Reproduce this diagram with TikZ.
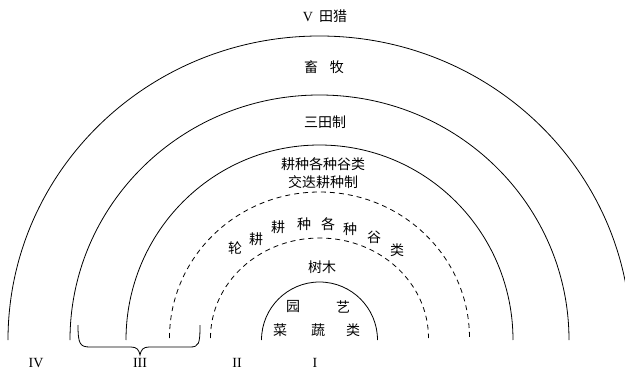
\documentclass[tikz,border=0pt]{standalone}
\usepackage{fontspec}
\setmainfont{Liberation Serif}
\newfontfamily\cjk{Noto Sans CJK SC}
\begin{document}
\begin{tikzpicture}[x=1pt,y=-1pt,
  ring/.style={line width=0.8pt},
  dring/.style={line width=0.8pt, dash pattern=on 5pt off 4pt},
  lab/.style={font=\cjk\fontsize{14}{16}\selectfont, inner sep=0pt, anchor=center},
  num/.style={font=\fontsize{14}{16}\selectfont, inner sep=0pt, anchor=center}]
\useasboundingbox (0,0) rectangle (625,375);
\clip (0,0) rectangle (625,375);
\coordinate (c) at (319.5,340);
% rings
\draw[ring]  (c) ++(-311.5,0) arc[start angle=180,end angle=360,x radius=311.5,y radius=304];
\draw[ring]  (c) ++(-249.5,0) arc[start angle=180,end angle=360,x radius=249.5,y radius=245];
\draw[ring]  (c) ++(-193.5,0) arc[start angle=180,end angle=360,x radius=193.5,y radius=195];
\draw[dring] (c) ++(-150,-2) arc[start angle=180,end angle=360,x radius=150,y radius=146];
\draw[dring] (c) ++(-109,-2) arc[start angle=180,end angle=360,x radius=109,y radius=100];
\draw[ring]  (c) ++(-58,0) arc[start angle=180,end angle=360,x radius=58,y radius=58];
% labels
\node[lab] (v) at (325,16) {{\rmfamily V}\hspace{6pt}田猎};
\node[lab] (xm) at (324,67) {畜\hspace{12pt}牧};
\node[lab] (stz) at (325,122) {三田制};
\node[lab, align=center, font=\cjk\fontsize{14}{18}\selectfont] (gz) at (323,173) {耕种各种谷类\\交迭耕种制};
\node[lab] (a1) at (235,248) {轮};
\node[lab] (a2) at (256,239) {耕};
\node[lab] (a3) at (278,227) {耕};
\node[lab] (a4) at (304,224) {种};
\node[lab] (a5) at (328,224) {各};
\node[lab] (a6) at (350,229) {种};
\node[lab] (a7) at (374,237) {谷};
\node[lab] (a8) at (397,250) {类};
\node[lab] (sm) at (322,267) {树木};
\node[lab] (y1) at (293,307) {园};
\node[lab] (y2) at (343,307) {艺};
\node[lab] (s1) at (280,330) {菜};
\node[lab] (s2) at (318,330) {蔬};
\node[lab] (s3) at (353,330) {类};
% roman numerals
\node[num] (r4) at (36,363) {IV};
\node[num] (r3) at (140,363) {III};
\node[num] (r2) at (237,363) {II};
\node[num] (r1) at (315,363) {I};
% brace
\draw[line width=0.8pt] (78,325) .. controls (78,344) and (80,347) .. (90,347) -- (131,347)
  .. controls (137,347) and (139,350) .. (140,355)
  .. controls (141,350) and (143,347) .. (149,347) -- (190,347)
  .. controls (199,347) and (200,344) .. (200,325);
\end{tikzpicture}
\end{document}
